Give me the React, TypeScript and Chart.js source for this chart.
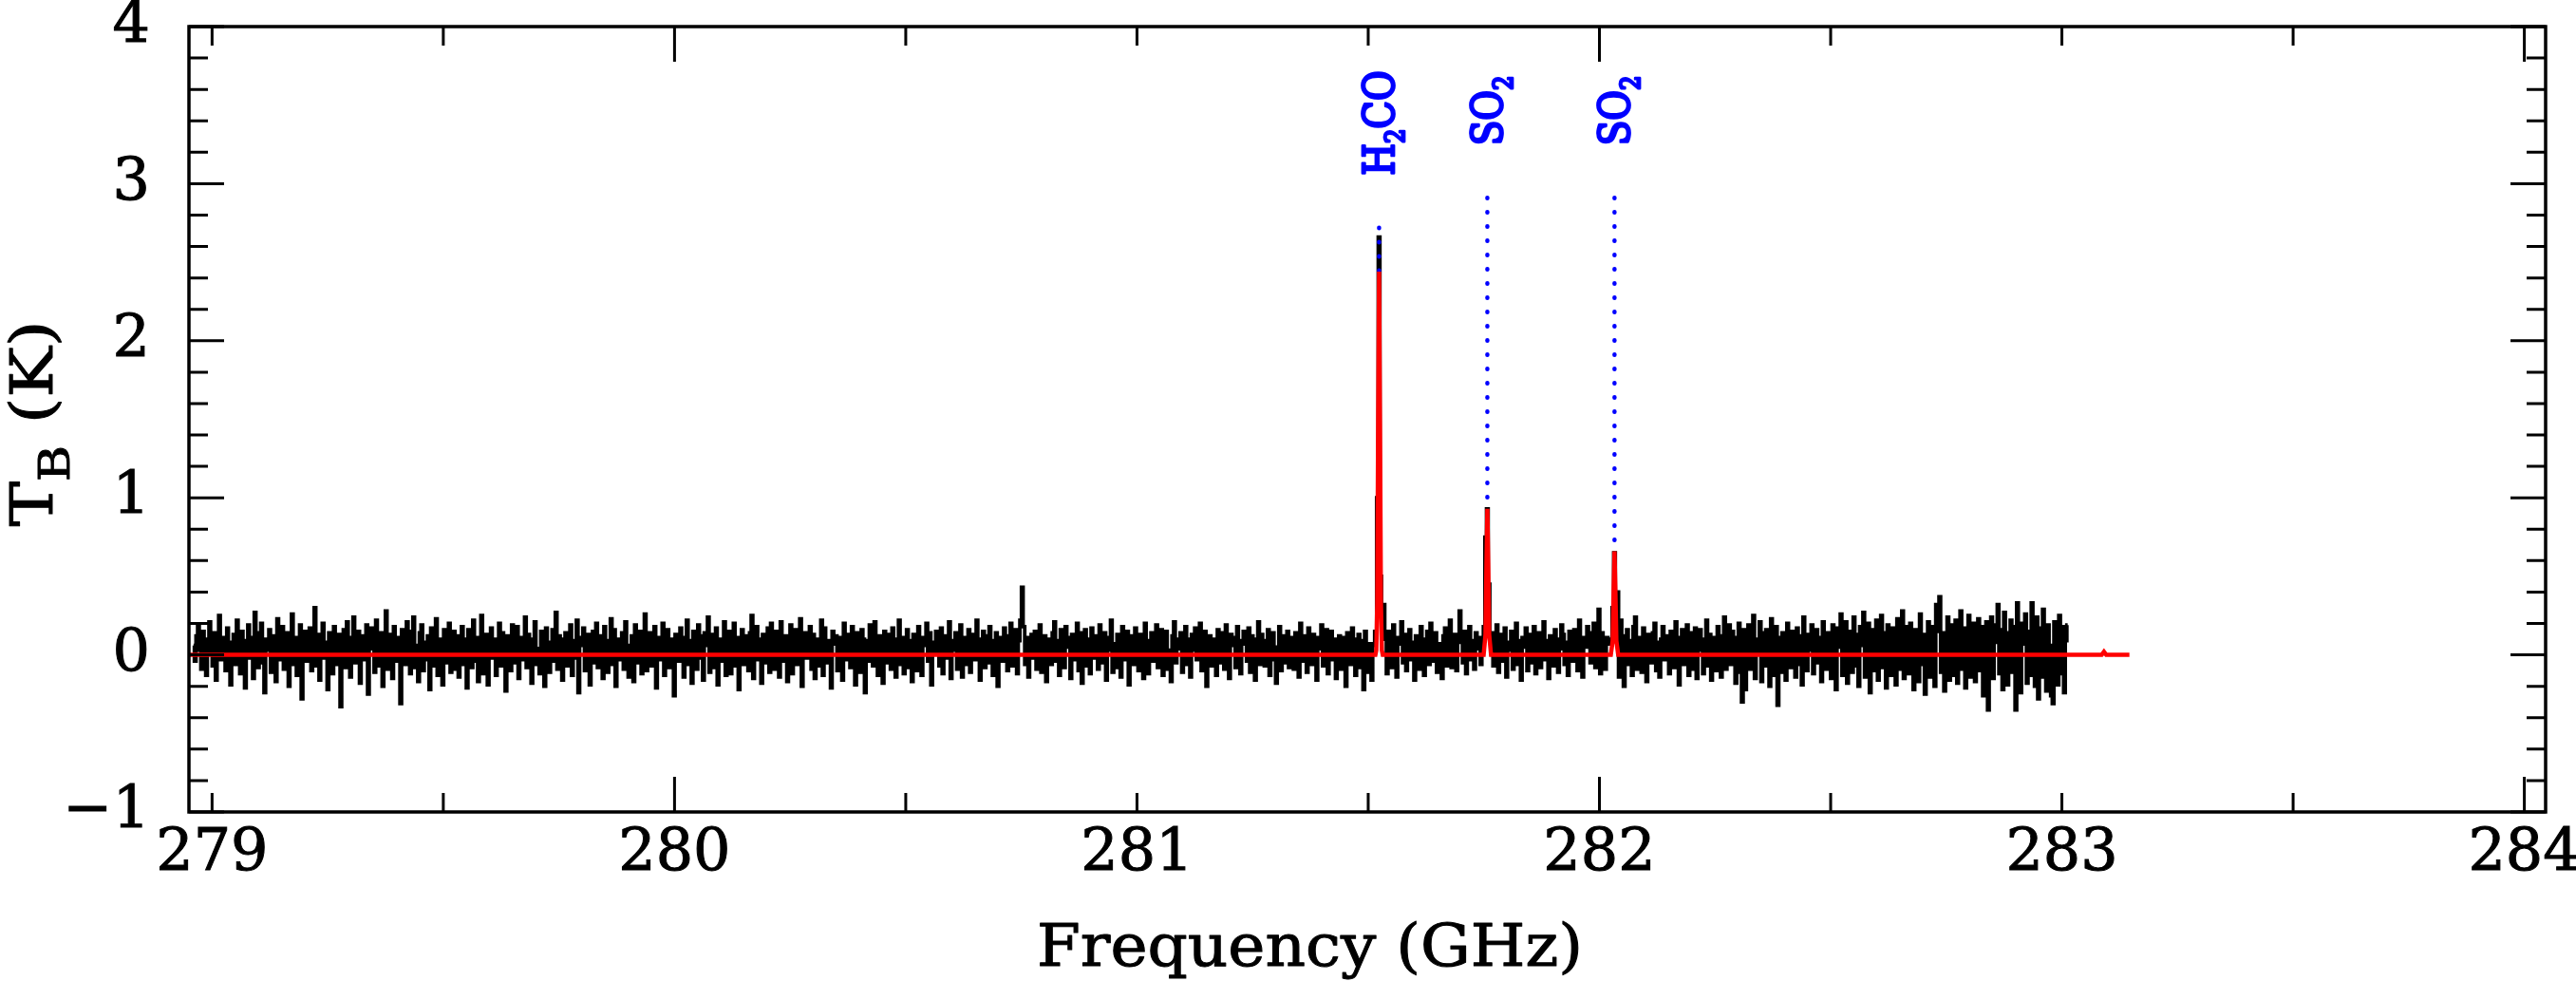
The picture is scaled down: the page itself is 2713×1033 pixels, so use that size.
import React, { useEffect, useRef } from 'react';
import { Chart, registerables } from 'chart.js';

Chart.register(...registerables);

// ---------- axes ----------
const X_MIN = 278.95;
const X_MAX = 284.046;
const Y_MIN = -1;
const Y_MAX = 4;
const X_TICK_LABELS = [279, 280, 281, 282, 283, 284];
const X_TICK_MARKS = [279, 279.5, 280, 280.5, 281, 281.5, 282, 282.5, 283, 283.5, 284];
const X_LONG_TICKS = [280, 282, 284];
const Y_TICK_LABELS = [-1, 0, 1, 2, 3, 4];
const Y_TICK_MARKS = [
  -1, -0.8, -0.6, -0.4, -0.2, 0, 0.2, 0.4, 0.6, 0.8, 1, 1.2, 1.4, 1.6, 1.8, 2, 2.2, 2.4, 2.6, 2.8,
  3, 3.2, 3.4, 3.6, 3.8, 4,
];

// ---------- observed spectrum (channel width 3.5 MHz, values in centi-Kelvin) ----------
const CHANNEL_WIDTH = 0.0035;
const NOISE_A_START = 278.96;
const NOISE_A_CK = [
  6, -4, 12, 18, 3, -9, 15, 7, -13, 10,
  21, 2, -7, 14, -16, 9, 25, -3, 5, 11,
  -10, 17, 4, -19, 8, 13, -6, 22, 1, -12,
  15, 9, -21, 6, 19, -2, 11, -15, 27, 4,
  -8, 14, 20, -5, -24, 10, 3, 16, -11, 7,
  12, -17, 23, 5, -3, 18, -9, 8, 14, -20,
  2, 26, -6, 11, -13, 7, 19, -28, 9, 15,
  -4, 10, 17, -10, 6, 30, -7, 13, -16, 3,
  20, -2, 8, -22, 14, 5, -12, 18, 9, -6,
  13, -33, 7, 16, -8, 21, 2, -14, 11, 24,
  -5, 9, 15, -18, 6, 12, -3, 19, -25, 8,
  17, 4, -11, 22, -7, 10, 14, -20, 5, 28,
  -9, 13, 3, -15, 18, 7, -4, 11, -31, 16,
  9, -6, 21, 2, -12, 15, 24, -8, 6, -17,
  14, 19, -10, 8, -3, 12, -22, 17, 5, -7,
  23, -13, 10, 4, -19, 16, 8, -5, 20, -11,
  7, 15, -9, 12, -14, 3, 18, -6, 10, -21,
  16, 2, -8, 22, -4, 11, -17, 9, 25, -12,
  5, 13, -19, 7, 17, -2, 10, -13, 6, 20,
  -7, 14, 8, -23, 12, 4, -10, 19, -5, 9,
  18, -15, 6, 11, -3, 24, -8, 13, 2, -18,
  10, 21, -6, 4, -12, 15, 7, -20, 17, 3,
  -11, 8, 16, -4, 27, -9, 12, 5, -16, 10,
  14, -7, 3, 19, -13, 9, -2, 22, -24, 6,
  11, 17, -10, 5, 13, -19, 8, 15, -5, 20,
  -8, 4, 12, -15, 18, 1, -11, 9, 23, -6,
  16, -20, 7, 10, -3, 14, -9, 21, 4, -14,
  6, 12, -17, 19, 8, -5, 15, -12, 3, 26,
  -10, 9, 14, -7, 2, 18, -21, 11, 6, -3,
  20, -13, 5, 16, -8, 10, 3, -26, 13, 8,
  -4, 17, 11, -14, 7, 22, -6, 9, -18, 15,
  4, -9, 19, 12, -2, -16, 14, 6, 24, -11,
  13, 3, -8, 17, -19, 10, 5, -4, 21, -13,
  8, 15, -12, 2, 20, -7, 11, -22, 9, 16,
  -6, 12, 7, -10, 14, 25, -15, 4, 18, -3,
  10, -18, 13, 6, -5, 17, -11, 20, 2, -9,
  15, 5, -14, 21, 9, -4, 12, -17, 7, 19,
  -12, 8, 16, -6, 3, 23, -20, 11, 14, -2,
  6, 18, -9, 13, -15, 4, 10, -7, 22, -13,
  17, -5, 9, 2, -21, 15, 7, 12, -10, 4,
  11, -16, 20, 8, -3, 13, -8, 18, 5, -19,
  14, 3, -11, 16, 10, -24, 9, -4, 19, 7,
  -7, 21, 6, -13, 12, 2, -18, 15, 8, -5,
  13, -9, 17, 4, -14, 10, 22, -6, 11, -12,
  5, 16, -8, 9, -17, 13, 3, -10, 18, 7,
  -13, 11, 6, 20, -4, 14, -19, 8, 2, 15,
  10, -7, 17, -12, 5, 12, -2, 21, -15, 9,
  3, 14, -9, 7, 19, -14, 11, 4, -6, 16,
  -11, 8, 13, -3, 22, 6, -16, 10, 15, -8,
  12, -5, 18, 2, -13, 9, 14, -20, 7, 11,
  -4, 17, 6, -10, 12, 20, -7, 3, 16, -12,
  9, 22, 43, 18, -6, 11, -14, 7, 13, -2,
  15, -9, 4, 19, -11, 8, 12, -17, 6, 10,
  -6, 14, 21, -4, 9, -13, 16, 2, -8, 18,
  11, 5, -15, 13, 7, -3, 20, -10, 14, -18,
  4, 16, -7, 10, -12, 17, 6, -2, 12, -9,
  19, -5, 8, 14, -16, 3, 11, 22, -11, 7,
  -8, 13, 5, -14, 18, 9, -3, 15, -19, 10,
  12, -6, 17, 7, -10, 13, 2, -15, 20, 6,
  -12, 9, 14, -4, 11, 19, -8, 5, 16, -13,
  8, 15, -9, 3, -17, 12, 21, -5, 10, 4,
  14, -11, 7, 18, -6, 10, -14, 13, 3, 17,
  -3, 11, 20, -10, 6, 15, -20, 9, 12, -7,
  10, 4, -13, 16, 8, -5, 14, -9, 19, 2,
  -15, 13, 6, 11, -8, 18, 3, -12, 9, 15,
  7, -4, 17, -11, 12, 5, -16, 10, 21, -6,
  13, 9, -7, 4, 16, -13, 8, 14, -3, -18,
  5, 18, -10, 12, -5, 9, 15, -8, 6, 11,
  -9, 14, 3, -14, 20, 7, -4, 12, -11, 17,
  10, -6, 13, 8, -16, 11, 4, 19, -7, 9,
  16, -12, 6, 15, -3, 10, -15, 7, 12, -9,
  3, 11, -20, 14, 8, -6, 17, 5, -13, 10,
  13, -8, 9, -22, 15, 4, -11, 7, -16, 6,
];
const NOISE_B_START = 281.534;
const NOISE_B_CK = [
  32, 10, -12, 15, 6, -8, 19, 3, -14, 11,
  7, 21, -5, 13, -10, 9, 16, -3, 8, -16,
  12, 4, -9, 18, 6, -13, 10, 15, -6, 20,
  -4, 9, 14, -11, 7, 3, -15, 12, 17, -7,
  10, 22, -8, 5, 13, -10, 8, 28, 11, -5,
  15, -12, 6, 18, -3, 9, -9, 14, 4, 11,
  -6, 8,
];
const NOISE_C_START = 281.768;
const NOISE_C_CK = [
  14, -7, 10, 19, -11, 6, 13, -4, 17, -14,
  8, 3, 15, -9, 12, 20, -6, 9, -16, 11,
  5, 17, -10, 13, 7, -5, 18, -12, 4, 14,
  -8, 11, 21, -3, 9, -15, 12, 6, -7, 16,
  10, -11, 4, 19, 13, -6, 8, -13, 15, 2,
  -4, 16, 9, -10, 22, 7, -14, 11, 5, 18,
  12, -5, 14, 20, -8, 10, 29, -12, 14, 3,
  -9, 11, 7,
];
const NOISE_D_START = 282.043;
const NOISE_D_CK = [
  -14, 22, 7, -20, 12, 16, -6, 9, -13, 18,
  24, -9, 11, 3, -11, 17, 6, -17, 13, 4,
  -5, 14, 20, -10, 8, -14, 10, 18, -3, 12,
  3, -12, 15, 9, -8, 21, 5, -19, 11, 16,
  -6, 12, 19, -13, 6, 14, -9, 17, -15, 8,
  16, 3, -12, 10, 22, -7, 13, -16, 5, 11,
  -10, 18, 7, -14, 12, 24, -9, 9, 19, -6,
  15, 4, -18, 11, 20, -11, -30, 16, -22, 6,
  19, -9, 13, 25, -15, 10, 2, 21, -17, 14,
  -7, 16, 8, -20, 23, 12, -13, 18, -32, 11,
  -11, 14, 5, -16, 20, 9, -8, 15, 4, -14,
  17, -6, 12, -19, 24, 7, -10, 13, 3, 19,
  -12, 9, 16, -5, 11, -17, 21, 6, -9, 14,
  8, -15, 19, 12, -22, 17, 5, 26, -13, 10,
  21, -18, 9, 15, -11, 24, -7, 13, -20, 18,
  6, 27, -14, 11, 20, -24, 8, 16, -10, 22,
  -16, 12, 25, -8, 14, -21, 19, 5, -13, 17,
  10, -19, 23, 14, -9, 28, -15, 7, 18, -12,
  20, 4, -22, 16, 11, -17, 26, -6, 13, -25,
  9, 21, -14, 18, 7, -20, 32, 15, 37, -11,
  14, -23, 10, 24, -16, 19, 6, -13, 22, -18,
  12, 28, -9, 17, -21, 8, 25, -14, 11, 20,
  -17, 15, 23, -10, 18, -26, 9, 21, -35, 13,
  24, -15, 8, 19, 32, -12, 16, -22, 27, 10,
  -19, 14, 22, -11, 18, -35, 33, 12, -24, 20,
  7, 26, -18, 15, -13, 33, 9, -20, 24, -28,
  17, -14, 29, 11, -23, 19, 6, -26, -31, 21,
  13, -19, 25, -12, 18, -24, 9, 19,
];
// channels across the three detected lines (GHz, K)
const PEAK_CH_FREQ = [
  281.5165, 281.52, 281.5235, 281.527, 281.5305,
  281.7506, 281.7541, 281.7576, 281.7611, 281.7646,
  282.0256, 282.0291, 282.0326, 282.0361, 282.0396,
];
const PEAK_CH_TB = [
  0.15, 1.0, 2.66, 0.5, 0.22,
  0.18, 0.75, 0.93, 0.45, 0.1,
  0.1, 0.3, 0.65, 0.3, 0.4,
];

// ---------- model fit (red) ----------
const MODEL_FREQ = [
  278.95,
  281.5155, 281.5175, 281.5195, 281.5215, 281.5235, 281.5255, 281.5275, 281.5295, 281.5315,
  281.7496, 281.7536, 281.7556, 281.7576, 281.7596, 281.7616, 281.7656,
  282.0246, 282.0286, 282.0306, 282.0326, 282.0346, 282.0366, 282.0406,
  283.086, 283.091, 283.096,
  283.146,
];
const MODEL_TB = [
  0,
  0, 0.03, 0.33, 1.48, 2.44, 1.48, 0.33, 0.03, 0,
  0, 0.13, 0.57, 0.93, 0.57, 0.13, 0,
  0, 0.09, 0.4, 0.66, 0.4, 0.09, 0,
  0, 0.02, 0,
  0,
];

// ---------- line identifications ----------
const LINE_FREQ = [281.5235, 281.7576, 282.0326];
const LINE_TOP = [2.72, 2.91, 2.91];
const LINE_BOTTOM = [2.44, 0.93, 0.66];
const LINE_LABEL_MAIN = ['H', 'SO', 'SO'];
const LINE_LABEL_SUB = ['2', '2', '2'];
const LINE_LABEL_TAIL = ['CO', '', ''];

const X_TITLE = 'Frequency (GHz)';
const Y_TITLE_MAIN = 'T';
const Y_TITLE_SUB = 'B';
const Y_TITLE_TAIL = ' (K)';

const SERIF = '"DejaVu Serif", serif';

function channels(start: number, valuesCK: number[]) {
  return valuesCK.map((v, j) => ({ x: +(start + j * CHANNEL_WIDTH).toFixed(5), y: v / 100 }));
}

const observed = [
  ...channels(NOISE_A_START, NOISE_A_CK),
  ...channels(NOISE_B_START, NOISE_B_CK),
  ...channels(NOISE_C_START, NOISE_C_CK),
  ...channels(NOISE_D_START, NOISE_D_CK),
  ...PEAK_CH_FREQ.map((f, k) => ({ x: f, y: PEAK_CH_TB[k] })),
].sort((a, b) => a.x - b.x);

const model = MODEL_FREQ.map((f, k) => ({ x: f, y: MODEL_TB[k] }));

type Part = { text: string; size: number; shift: number };

function drawParts(
  ctx: CanvasRenderingContext2D,
  parts: Part[],
  weight: string,
  scaleX: number | null,
  targetLen: number | null,
  strokeW: number,
) {
  let total = 0;
  for (const p of parts) {
    ctx.font = `${weight} ${p.size}px ${SERIF}`;
    total += ctx.measureText(p.text).width;
  }
  const s = targetLen ? targetLen / total : (scaleX as number);
  ctx.save();
  ctx.scale(s, 1);
  ctx.textAlign = 'left';
  ctx.textBaseline = 'alphabetic';
  ctx.lineWidth = strokeW;
  ctx.lineJoin = 'round';
  ctx.strokeStyle = ctx.fillStyle as string;
  let cx = 0;
  for (const p of parts) {
    ctx.font = `${weight} ${p.size}px ${SERIF}`;
    if (strokeW > 0 && p.text.trim()) ctx.strokeText(p.text, cx, p.shift);
    ctx.fillText(p.text, cx, p.shift);
    cx += ctx.measureText(p.text).width;
  }
  ctx.restore();
}

const decorPlugin = {
  id: 'decor',
  afterDraw(chart: any) {
    const { ctx, chartArea: a, scales } = chart;
    const x = scales.x;
    const y = scales.y;
    ctx.save();
    // frame
    ctx.strokeStyle = '#000';
    ctx.lineWidth = 3.5;
    ctx.strokeRect(a.left, a.top, a.right - a.left, a.bottom - a.top);
    // ticks on all four sides (inward)
    ctx.lineWidth = 3;
    ctx.beginPath();
    for (const v of X_TICK_MARKS) {
      const px = x.getPixelForValue(v);
      const len = X_LONG_TICKS.includes(v) ? 37 : 20;
      ctx.moveTo(px, a.bottom);
      ctx.lineTo(px, a.bottom - len);
      ctx.moveTo(px, a.top);
      ctx.lineTo(px, a.top + len);
    }
    for (const v of Y_TICK_MARKS) {
      const py = y.getPixelForValue(v);
      const len = Y_TICK_LABELS.includes(v) ? 37 : 20;
      ctx.moveTo(a.left, py);
      ctx.lineTo(a.left + len, py);
      ctx.moveTo(a.right, py);
      ctx.lineTo(a.right - len, py);
    }
    ctx.stroke();

    // x title
    ctx.fillStyle = '#000';
    ctx.save();
    ctx.translate((a.left + a.right) / 2 - 348, a.bottom + 162);
    drawParts(ctx, [{ text: X_TITLE, size: 62, shift: 0 }], 'normal', null, 575, 1.0);
    ctx.restore();

    // y title (rotated)
    ctx.save();
    ctx.translate(a.left - 144, (a.top + a.bottom) / 2 + 113);
    ctx.rotate(-Math.PI / 2);
    drawParts(
      ctx,
      [
        { text: Y_TITLE_MAIN, size: 62, shift: 0 },
        { text: Y_TITLE_SUB, size: 45, shift: 18 },
        { text: Y_TITLE_TAIL, size: 62, shift: 0 },
      ],
      'normal',
      null,
      217,
      1.0,
    );
    ctx.restore();

    // line labels
    ctx.fillStyle = '#0000ff';
    LINE_FREQ.forEach((f, k) => {
      const px = x.getPixelForValue(f);
      const py = y.getPixelForValue(LINE_TOP[k]);
      ctx.save();
      ctx.translate(px + 16, py - 55);
      ctx.rotate(-Math.PI / 2);
      drawParts(
        ctx,
        [
          { text: LINE_LABEL_MAIN[k], size: 45, shift: 0 },
          { text: LINE_LABEL_SUB[k], size: 28, shift: 11 },
          { text: LINE_LABEL_TAIL[k], size: 45, shift: 0 },
        ],
        'normal',
        0.86,
        null,
        2.8,
      );
      ctx.restore();
    });
    ctx.restore();
  },
};

function zeroPadding(s: any) {
  s.paddingLeft = 0;
  s.paddingRight = 0;
  s.paddingTop = 0;
  s.paddingBottom = 0;
}

export default function App() {
  const ref = useRef<HTMLCanvasElement>(null);
  useEffect(() => {
    document.body.style.margin = '0';
    document.body.style.overflow = 'hidden';
    const blueSets = LINE_FREQ.map((f, k) => ({
      label: `line-${k}`,
      data: [
        { x: f, y: LINE_TOP[k] },
        { x: f, y: LINE_BOTTOM[k] },
      ],
      borderColor: '#0000ff',
      borderWidth: 4.5,
      borderDash: [0.5, 14.5],
      borderCapStyle: 'round' as const,
      pointRadius: 0,
      order: 1,
    }));
    const chart = new Chart(ref.current as HTMLCanvasElement, {
      type: 'line',
      data: {
        datasets: [
          {
            label: 'model',
            data: model,
            borderColor: '#ff0000',
            borderWidth: 4.5,
            pointRadius: 0,
            tension: 0,
            order: 0,
          },
          ...blueSets,
          {
            label: 'observed',
            data: observed,
            borderColor: '#000000',
            borderWidth: 3.8,
            pointRadius: 0,
            stepped: 'middle',
            order: 2,
          },
        ],
      },
      options: {
        animation: false,
        responsive: false,
        devicePixelRatio: 1,
        events: [],
        layout: { padding: { left: 0, right: 32, top: 28, bottom: 0 } },
        plugins: {
          legend: { display: false },
          tooltip: { enabled: false },
          title: { display: false },
        },
        scales: {
          x: {
            type: 'linear',
            position: 'bottom',
            min: X_MIN,
            max: X_MAX,
            bounds: 'data',
            grid: { display: false, drawTicks: false, drawOnChartArea: false },
            border: { display: false },
            ticks: {
              autoSkip: false,
              maxRotation: 0,
              minRotation: 0,
              padding: 8,
              color: '#000',
              textStrokeColor: '#000',
              textStrokeWidth: 1.0,
              font: { family: SERIF, size: 62, lineHeight: 1.2 },
              callback: (v: any) => String(v),
            },
            afterBuildTicks: (s: any) => {
              s.ticks = X_TICK_LABELS.map((v) => ({ value: v }));
            },
            afterFit: (s: any) => {
              s.height = 178;
              zeroPadding(s);
            },
          },
          y: {
            type: 'linear',
            position: 'left',
            min: Y_MIN,
            max: Y_MAX,
            bounds: 'data',
            grid: { display: false, drawTicks: false, drawOnChartArea: false },
            border: { display: false },
            ticks: {
              autoSkip: false,
              padding: 41,
              color: '#000',
              textStrokeColor: '#000',
              textStrokeWidth: 1.0,
              font: { family: SERIF, size: 62, lineHeight: 1.2 },
              callback: (v: any) => (v < 0 ? '\u2212' + String(-v) : String(v)),
            },
            afterBuildTicks: (s: any) => {
              s.ticks = Y_TICK_LABELS.map((v) => ({ value: v }));
            },
            afterFit: (s: any) => {
              s.width = 199;
              zeroPadding(s);
            },
          },
        },
      },
      plugins: [decorPlugin],
    } as any);
    return () => chart.destroy();
  }, []);
  return (
    <div style={{ position: 'fixed', left: 0, top: 0, width: 2713, height: 1033, background: '#fff' }}>
      <canvas ref={ref} width={2713} height={1033} style={{ display: 'block' }} />
    </div>
  );
}
